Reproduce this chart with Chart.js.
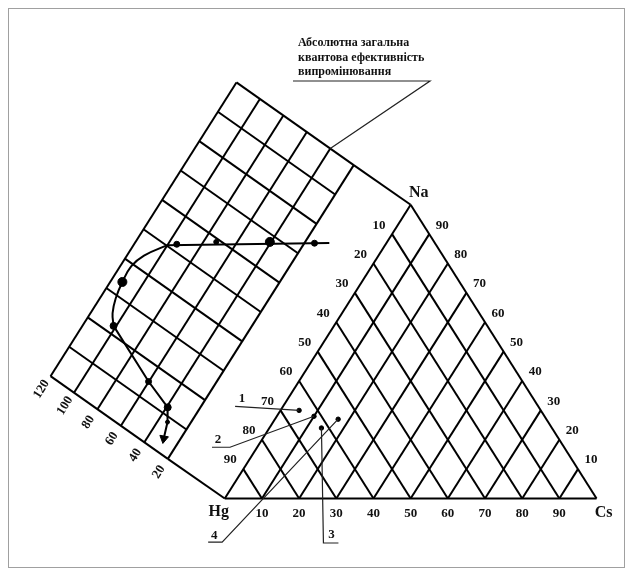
<!DOCTYPE html>
<html lang="uk">
<head>
<meta charset="UTF-8">
<title>Квантова ефективність Hg–Na–Cs</title>
<script src="https://cdn.jsdelivr.net/npm/chart.js"></script>
<style>
  body { margin: 0; background: #fff; }
  .wrap { position: relative; width: 632px; height: 575px; }
  .frame {
    position: absolute; left: 8px; top: 8px;
    width: 615px; height: 558px;
    border: 1px solid #a0a0a0;
    pointer-events: none;
  }
</style>
</head>
<body>
<div class="wrap">
  <canvas id="chart" width="632" height="575"></canvas>
  <div class="frame"></div>
</div>
<script>
// ternary grid ticks (%)
const csTicks = [10, 20, 30, 40, 50, 60, 70, 80, 90];
const hgTicks = [10, 20, 30, 40, 50, 60, 70, 80, 90];
const naTicks = [10, 20, 30, 40, 50, 60, 70, 80, 90];

// efficiency wall: ticks along efficiency, rows along the Hg–Na edge (Na %)
const effTicks = [20, 40, 60, 80, 100, 120];
const wallRows = [0, 10, 20, 30, 40, 50, 60, 70, 80, 90, 100];

// efficiency curve (Na % along Hg–Na edge, efficiency)
const topNa = [77.6, 50.1];
const topEff = [5.3, 100.2];
const bendNa = [50.1, 43.9, 39.3, 34.1, 29.1, 25.1, 22.3];
const bendEff = [100.2, 109.9, 113.4, 112.8, 110.6, 106.9, 101.6];
const tailNa = [22.3, 15.0, 12.1, 8.6, 4.1];
const tailEff = [101.6, 60.2, 39.3, 33.9, 30.0];

// measured points on the curve
const dotNa = [75.1, 68.0, 59.1, 52.0, 34.1, 22.3, 15.0, 12.1, 8.6];
const dotEff = [14.0, 40.8, 72.4, 94.8, 112.8, 101.6, 60.2, 39.3, 33.9];
const dotSize = [3, 4.5, 2.5, 3, 4.5, 3.5, 3, 3.5, 2];

// compositions 1–4 on the triangle
const sampleNames = ['1', '2', '3', '4'];
const sampleCs = [5, 10, 14, 17];
const sampleNa = [30, 28, 24, 27];

const titleLines = ['Абсолютна загальна', 'квантова ефективність', 'випромінювання'];

// plane: x = Cs + Na/2, y = Na
function tern(cs, na) { return { x: cs + na / 2, y: na }; }
// wall drawn obliquely off the Hg–Na edge
const OX = -9.0, OY = 7.87, DX = -6.31, DY = 5.63;
function wall(na, eff) {
  const k = eff / 20;
  return { x: na / 2 + OX + k * DX, y: na + OY + k * DY };
}

function seg(a, b, w) {
  return {
    data: [a, b], showLine: true, borderColor: '#000', borderWidth: w || 2,
    pointRadius: 0, pointHoverRadius: 0, tension: 0
  };
}

const datasets = [];
// triangle
const HG = tern(0, 0), CS = tern(100, 0), NA = tern(0, 100);
datasets.push(seg(HG, CS), seg(CS, NA), seg(NA, HG));
csTicks.forEach(c => datasets.push(seg(tern(c, 0), tern(c, 100 - c))));
hgTicks.forEach(h => datasets.push(seg(tern(100 - h, 0), tern(0, 100 - h))));
// wall
effTicks.forEach(e => datasets.push(seg(wall(0, e), wall(100, e))));
wallRows.forEach(n => datasets.push(seg(wall(n, 20), wall(n, 120))));
datasets.push(seg(NA, wall(100, 20)), seg(HG, wall(0, 20)));

// curve
function path(na, eff, tension) {
  return {
    data: na.map((n, i) => wall(n, eff[i])), showLine: true,
    borderColor: '#000', borderWidth: 2, pointRadius: 0, pointHoverRadius: 0,
    tension: tension
  };
}
datasets.push(path(topNa, topEff, 0), path(bendNa, bendEff, 0.4), path(tailNa, tailEff, 0));
datasets.push({
  data: dotNa.map((n, i) => wall(n, dotEff[i])),
  pointRadius: dotSize, pointHoverRadius: dotSize,
  backgroundColor: '#000', borderColor: '#000', showLine: false
});
datasets.push({
  data: [wall(tailNa[tailNa.length - 1], tailEff[tailEff.length - 1])],
  pointStyle: 'triangle', rotation: 190, pointRadius: 5,
  backgroundColor: '#000', borderColor: '#000', showLine: false
});
datasets.push({
  data: sampleCs.map((c, i) => tern(c, sampleNa[i])),
  pointRadius: 2.2, backgroundColor: '#000', borderColor: '#000', showLine: false
});

const annotations = {
  id: 'annotations',
  afterDatasetsDraw(chart) {
    const ctx = chart.ctx;
    const sx = chart.scales.x, sy = chart.scales.y;
    const px = p => ({ x: sx.getPixelForValue(p.x), y: sy.getPixelForValue(p.y) });
    const line = (pts, w) => {
      ctx.beginPath();
      ctx.lineWidth = w;
      ctx.moveTo(pts[0][0], pts[0][1]);
      for (let i = 1; i < pts.length; i++) ctx.lineTo(pts[i][0], pts[i][1]);
      ctx.stroke();
    };
    ctx.save();
    ctx.fillStyle = '#111';
    ctx.strokeStyle = '#222';
    ctx.textAlign = 'center';
    ctx.textBaseline = 'middle';
    ctx.font = 'bold 13px "Liberation Serif", serif';

    csTicks.forEach(c => { const p = px(tern(c, 0)); ctx.fillText(String(c), p.x, p.y + 15); });
    hgTicks.forEach(h => { const p = px(tern(0, 100 - h)); ctx.fillText(String(h), p.x - 13, p.y - 9); });
    naTicks.forEach(n => { const p = px(tern(100 - n, n)); ctx.fillText(String(n), p.x + 13, p.y - 9); });

    effTicks.forEach(e => {
      const p = px(wall(0, e));
      ctx.save();
      ctx.translate(p.x - 9, p.y + 13);
      ctx.rotate(-58 * Math.PI / 180);
      ctx.fillText(String(e), 0, 0);
      ctx.restore();
    });

    ctx.font = 'bold 16px "Liberation Serif", serif';
    let p = px(HG); ctx.fillText('Hg', p.x - 6, p.y + 13);
    p = px(CS); ctx.fillText('Cs', p.x + 7, p.y + 14);
    p = px(NA); ctx.fillText('Na', p.x + 8, p.y - 12);

    // sample leaders
    ctx.font = 'bold 13px "Liberation Serif", serif';
    const s = sampleCs.map((c, i) => px(tern(c, sampleNa[i])));
    line([[s[0].x, s[0].y], [s[0].x - 64, s[0].y - 4]], 1.2);
    ctx.fillText(sampleNames[0], s[0].x - 57, s[0].y - 12);
    line([[s[1].x, s[1].y], [s[1].x - 84, s[1].y + 31], [s[1].x - 102, s[1].y + 31]], 1.2);
    ctx.fillText(sampleNames[1], s[1].x - 96, s[1].y + 23);
    line([[s[2].x, s[2].y], [s[2].x + 2, s[2].y + 115], [s[2].x + 17, s[2].y + 115]], 1.2);
    ctx.fillText(sampleNames[2], s[2].x + 10, s[2].y + 107);
    line([[s[3].x, s[3].y], [s[3].x - 116, s[3].y + 123], [s[3].x - 130, s[3].y + 123]], 1.2);
    ctx.fillText(sampleNames[3], s[3].x - 124, s[3].y + 116);

    // title with leader to the wall
    ctx.textAlign = 'left';
    ctx.textBaseline = 'alphabetic';
    ctx.font = 'bold 12px "Liberation Serif", serif';
    titleLines.forEach((t, i) => ctx.fillText(t, 298, 46 + i * 14.5));
    const t = px(wall(100, 40));
    line([[293, 81], [430, 81], [t.x, t.y]], 1.2);
    ctx.restore();
  }
};

new Chart(document.getElementById('chart'), {
  type: 'scatter',
  data: { datasets },
  options: {
    responsive: false,
    animation: false,
    events: [],
    layout: { padding: 0 },
    plugins: { legend: { display: false }, tooltip: { enabled: false } },
    scales: {
      x: { type: 'linear', display: false, min: -58.84, max: 107.92 },
      y: { type: 'linear', display: false, min: -24, max: 167.67 }
    }
  },
  plugins: [annotations]
});
</script>
</body>
</html>
